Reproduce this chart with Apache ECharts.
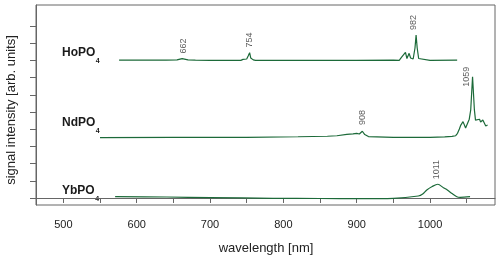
<!DOCTYPE html>
<html>
<head>
<meta charset="utf-8">
<script src="https://cdn.jsdelivr.net/npm/echarts@6/dist/echarts.min.js"></script>
<style>html,body{margin:0;padding:0;background:#fff;}#c{width:500px;height:260px;}</style>
</head>
<body>
<div id="c"></div>
<script>
// ---- data ----
var xTickValues = [500, 550, 600, 650, 700, 750, 800, 850, 900, 950, 1000, 1050];
var xLabelValues = [500, 600, 700, 800, 900, 1000];
var yTickValues = [0, 1, 2, 3, 4, 5, 6, 7, 8, 9, 10];

var samples = ['HoPO', 'NdPO', 'YbPO'];

var hoWl  = [576, 600, 640, 655, 662, 670, 680, 700, 742, 745, 747, 750, 752, 754, 755.5, 757, 759, 762, 800, 900, 950, 958, 961, 963, 966.5, 968.5, 971.5, 973.5, 975, 977, 979.5, 981, 982.5, 984.5, 987, 1000, 1037];
var hoInt = [8.01, 8.01, 8.01, 8.03, 8.10, 8.03, 8.01, 8.00, 8.00, 8.06, 8.03, 8.08, 8.26, 8.45, 8.14, 8.23, 8.03, 8.00, 8.00, 8.00, 8.01, 8.00, 8.17, 8.11, 8.46, 8.11, 8.41, 8.14, 8.20, 8.08, 8.72, 9.48, 8.72, 8.11, 8.01, 8.00, 8.01];

var ndWl  = [550, 650, 750, 820, 860, 873, 886.5, 895, 900, 903.6, 907.7, 911, 916, 950, 1000, 1020, 1030, 1035, 1037.5, 1040, 1042, 1045, 1048.5, 1053.5, 1055.5, 1058, 1060.5, 1062, 1064.7, 1067.5, 1069, 1072, 1076, 1078.5];
var ndInt = [3.51, 3.52, 3.53, 3.56, 3.59, 3.62, 3.70, 3.73, 3.76, 3.72, 3.88, 3.69, 3.57, 3.53, 3.53, 3.55, 3.58, 3.62, 3.76, 4.01, 4.24, 4.44, 4.07, 4.58, 5.12, 7.05, 5.12, 4.53, 4.48, 4.58, 4.42, 4.53, 4.19, 4.24];

var ybWl  = [570.6, 641, 700, 786, 850, 904.6, 950, 984, 990, 995.6, 1003, 1010.6, 1018.2, 1023.6, 1030, 1036.5, 1041, 1054.6];
var ybInt = [0.076, 0.058, 0.023, -0.017, -0.03, -0.04, -0.02, 0.116, 0.23, 0.465, 0.67, 0.80, 0.60, 0.465, 0.26, 0.076, 0.04, 0.076];

var peakText = ['662', '754', '982', '908', '1059', '1011'];
var peakWl   = [663.6, 753.2, 977.3, 907.7, 1050.1, 1009.2];
var peakPos  = [8.84, 9.19, 10.2, 4.68, 7.05, 1.65];

// ---- chart ----
var FONT = '"Liberation Sans", Arial, Helvetica, sans-serif';
var LINE = '#1c6a39';
var AXIS = '#666666';

function pairs(a, b) { return a.map(function (v, i) { return [v, b[i]]; }); }

var chart = echarts.init(document.getElementById('c'), null, { renderer: 'canvas' });

var lineSeries = [[hoWl, hoInt], [ndWl, ndInt], [ybWl, ybInt]].map(function (s, i) {
  return {
    type: 'line', name: samples[i], data: pairs(s[0], s[1]),
    showSymbol: false, symbol: 'none', smooth: i === 2 ? 0.3 : false,
    lineStyle: { color: LINE, width: 1.2 }, animation: false, z: 3
  };
});

var labelSeries = {
  type: 'scatter', silent: true, animation: false,
  symbol: 'circle', symbolSize: 1, itemStyle: { color: 'rgba(0,0,0,0)' },
  data: peakWl.map(function (w, i) { return { value: [w, peakPos[i]], name: peakText[i] }; }),
  label: {
    show: true, position: 'inside', rotate: 90, formatter: '{b}',
    fontSize: 9, fontFamily: FONT, color: '#333', align: 'center', verticalAlign: 'middle'
  },
  z: 5
};

var option = {
  animation: false,
  backgroundColor: '#fff',
  grid: { left: 36, right: 5, top: 5, bottom: 55, show: true, borderColor: AXIS, borderWidth: 1, backgroundColor: 'transparent' },
  xAxis: {
    type: 'value', min: 462.7, max: 1088.6,
    axisLine: { show: true, lineStyle: { color: AXIS, width: 1 } },
    axisTick: { show: true, inside: false, length: 5, lineStyle: { color: AXIS }, customValues: xTickValues },
    axisLabel: { show: true, customValues: xLabelValues, formatter: function (v) { return String(v); }, fontSize: 11, fontFamily: FONT, color: '#222', margin: 14 },
    splitLine: { show: false }
  },
  yAxis: {
    type: 'value', min: -0.407, max: 11.22,
    axisLine: { show: true, lineStyle: { color: AXIS, width: 1 } },
    axisTick: { show: true, inside: false, length: 6, lineStyle: { color: AXIS }, customValues: yTickValues },
    axisLabel: { show: false, customValues: yTickValues },
    splitLine: { show: false }
  },
  series: lineSeries.concat([labelSeries])
};
chart.setOption(option);

// sample names with subscript 4, axis titles
var ctx = document.createElement('canvas').getContext('2d');
ctx.font = 'bold 12px ' + FONT;
var nameY = [53, 122.5, 191];
var graphics = [];
samples.forEach(function (s, i) {
  var w = ctx.measureText(s).width;
  graphics.push({ type: 'text', x: 62, y: nameY[i], silent: true,
    style: { text: s, font: 'bold 12px ' + FONT, fill: '#1a1a1a', align: 'left', verticalAlign: 'middle', textAlign: 'left', textVerticalAlign: 'middle' } });
  graphics.push({ type: 'text', x: 62 + w + 0.5, y: nameY[i] + 8.5, silent: true,
    style: { text: '4', font: 'bold 7px ' + FONT, fill: '#1a1a1a', align: 'left', verticalAlign: 'middle', textAlign: 'left', textVerticalAlign: 'middle' } });
});
graphics.push({ type: 'text', x: 266, y: 248, silent: true,
  style: { text: 'wavelength [nm]', font: '13px ' + FONT, fill: '#222', align: 'center', verticalAlign: 'middle', textAlign: 'center', textVerticalAlign: 'middle' } });
graphics.push({ type: 'text', x: 11, y: 110, rotation: Math.PI / 2, silent: true,
  style: { text: 'signal intensity [arb. units]', font: '13px ' + FONT, fill: '#222', align: 'center', verticalAlign: 'middle', textAlign: 'center', textVerticalAlign: 'middle' } });
chart.setOption({ graphic: { elements: graphics } });
</script>
</body>
</html>
